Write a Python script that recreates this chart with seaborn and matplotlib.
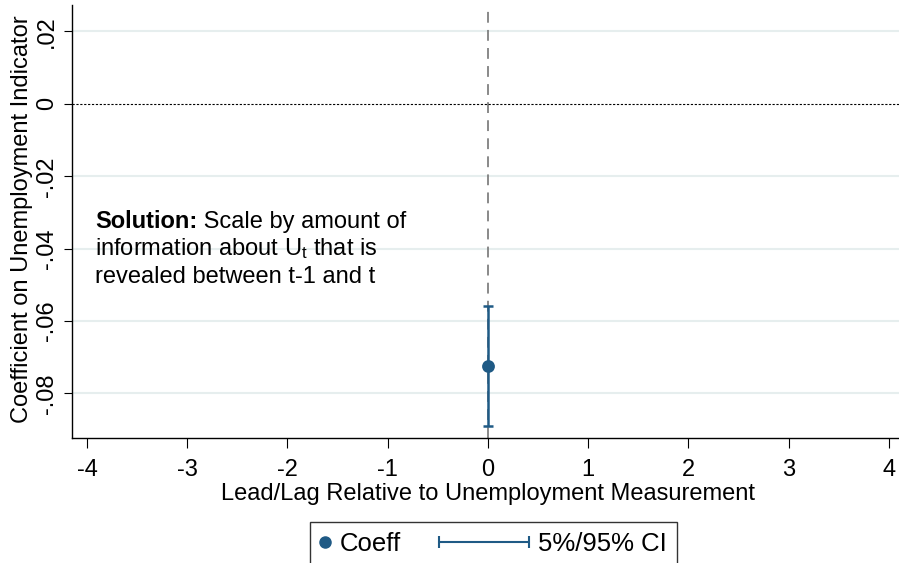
import matplotlib
matplotlib.use("Agg")
import matplotlib.pyplot as plt
import seaborn as sns
import numpy as np
from matplotlib.lines import Line2D
from matplotlib.legend_handler import HandlerLine2D

# Data
lead_lag = [0]
coeff = [-0.0724]
ci_low = [-0.0890]
ci_high = [-0.0558]

x_ticks = [-4, -3, -2, -1, 0, 1, 2, 3, 4]
y_ticks = [0.02, 0, -0.02, -0.04, -0.06, -0.08]
y_tick_labels = [".02", "0", "-.02", "-.04", "-.06", "-.08"]

NAVY = "#1f5a85"
FS = 17

sns.set_theme(style="white")
plt.rcParams['font.family'] = ['Liberation Sans', 'DejaVu Sans']
plt.rcParams['mathtext.fontset'] = 'custom'
plt.rcParams['mathtext.rm'] = 'Liberation Sans'
plt.rcParams['mathtext.bf'] = 'Liberation Sans:bold'
plt.rcParams['mathtext.it'] = 'Liberation Sans:italic'
plt.rcParams['text.color'] = 'black'
plt.rcParams['axes.labelcolor'] = 'black'
plt.rcParams['xtick.color'] = 'black'
plt.rcParams['ytick.color'] = 'black'


class CIHandler(HandlerLine2D):
    # draw a wide capped line that reaches left of the handle box
    def __init__(self, span, **kw):
        super().__init__(numpoints=2, **kw)
        self.span = span

    def get_xdata(self, legend, xdescent, ydescent, width, height, fontsize):
        x1 = -xdescent + width
        x0 = x1 - self.span * fontsize
        return [x0, x1], [x0, x1]


fig = plt.figure(figsize=(8.99, 5.63), dpi=100)
ax = fig.add_axes([0.080, 0.222, 0.92, 0.769])

# reference lines
ax.axvline(0, color="#808080", lw=1.3, ls=(0, (6, 4)), zorder=1)
ax.axhline(0, color="black", lw=0.8, ls=(0, (2, 1.5)), zorder=1)

yerr = [np.array(coeff) - np.array(ci_low), np.array(ci_high) - np.array(coeff)]
ax.errorbar(lead_lag, coeff, yerr=yerr, fmt="none", ecolor=NAVY,
            elinewidth=1.8, capsize=3.5, capthick=1.8, zorder=3)
sns.scatterplot(x=lead_lag, y=coeff, ax=ax, color=NAVY, s=85,
                edgecolor=NAVY, linewidth=0, zorder=4, legend=False)

ax.set_xlim(-4.15, 4.1)
ax.set_ylim(-0.0923, 0.0273)
ax.set_xticks(x_ticks)
ax.set_xticklabels([str(v) for v in x_ticks])
ax.set_yticks(y_ticks)
ax.set_yticklabels(y_tick_labels, rotation=90, va="center")

for yv in y_ticks:
    if yv != 0:
        ax.axhline(yv, color="#e6eeee", lw=1.5, zorder=0)

for s in ["top", "right"]:
    ax.spines[s].set_visible(False)
for s in ["left", "bottom"]:
    ax.spines[s].set_color("black")
    ax.spines[s].set_linewidth(1.0)

ax.tick_params(axis="x", which="both", direction="out", length=7, width=0.8,
               color="black", labelcolor="black", pad=8, labelsize=FS, bottom=True)
ax.tick_params(axis="y", which="both", direction="out", length=6, width=0.8,
               color="black", labelcolor="black", pad=4, labelsize=FS, left=True)

ax.set_xlabel("Lead/Lag Relative to Unemployment Measurement", fontsize=FS)
ax.set_ylabel("Coefficient on Unemployment Indicator", fontsize=FS)
ax.xaxis.set_label_coords(0.503, -0.105)
ax.yaxis.set_label_coords(-0.047, 0.505)

# annotation, line by line (bold lead-in on the first line)
x_txt = -3.92
t1 = ax.text(x_txt, -0.03425, "Solution:", fontsize=FS, fontweight="bold",
             ha="left", va="baseline")
ax.annotate(" Scale by amount of", xy=(1, 0), xycoords=t1, fontsize=FS,
            ha="left", va="bottom")
ax.text(x_txt, -0.04185, r"information about $\mathregular{U_t}$ that is",
        fontsize=FS, ha="left", va="baseline")
ax.text(x_txt, -0.04945, "revealed between t-1 and t",
        fontsize=FS, ha="left", va="baseline")

# legend
LFS = 18.5
h_coeff = Line2D([], [], marker="o", color=NAVY, linestyle="none", markersize=8)
h_ci = Line2D([], [], marker="|", color=NAVY, lw=1.5, markersize=8, mew=1.5)
leg = fig.legend([h_coeff, h_ci], ["Coeff", "5%/95% CI"], ncol=2,
                 loc="upper center", bbox_to_anchor=(0.549, 0.073),
                 borderaxespad=0, fontsize=LFS, frameon=True, fancybox=False,
                 handlelength=0.4, handletextpad=0.35, columnspacing=4.6,
                 borderpad=0.4,
                 handler_map={h_ci: CIHandler(span=3.5)})
leg.get_frame().set_edgecolor("black")
leg.get_frame().set_linewidth(1.0)

fig.savefig("out.png", dpi=100)
